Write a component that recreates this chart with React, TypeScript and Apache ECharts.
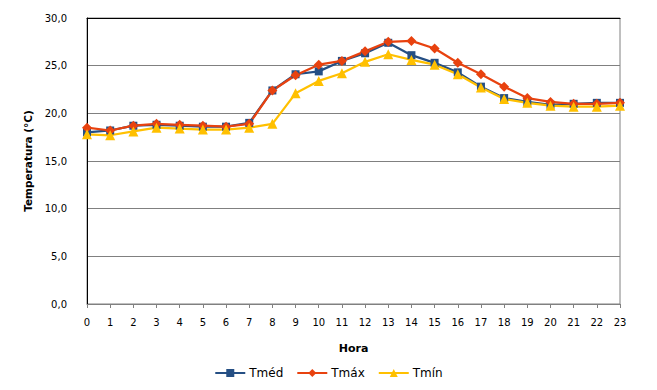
import React, { useEffect, useRef } from "react";
import * as echarts from "echarts";

const hours = ["0","1","2","3","4","5","6","7","8","9","10","11","12","13","14","15","16","17","18","19","20","21","22","23"];
const tmed = [18.0, 18.2, 18.7, 18.8, 18.7, 18.6, 18.6, 19.0, 22.4, 24.1, 24.4, 25.5, 26.3, 27.4, 26.1, 25.3, 24.3, 22.8, 21.6, 21.2, 20.9, 21.0, 21.1, 21.1];
const tmax = [18.5, 18.2, 18.7, 18.9, 18.8, 18.7, 18.6, 18.9, 22.4, 24.0, 25.1, 25.5, 26.5, 27.5, 27.6, 26.8, 25.3, 24.1, 22.8, 21.6, 21.2, 21.0, 21.0, 21.1];
const tmin = [17.8, 17.7, 18.1, 18.5, 18.4, 18.3, 18.3, 18.5, 18.9, 22.1, 23.4, 24.2, 25.4, 26.2, 25.6, 25.1, 24.1, 22.7, 21.5, 21.1, 20.8, 20.7, 20.7, 20.8];
const seriesNames = ["Tméd", "Tmáx", "Tmín"];

const FONT = "DejaVu Sans, Verdana, sans-serif";

export default function App() {
  const ref = useRef<HTMLDivElement>(null);
  useEffect(() => {
    if (!ref.current) return;
    const chart = echarts.init(ref.current, undefined, { renderer: "svg" });
    const mk = (name: string, data: number[], color: string, symbol: string, size: number) => ({
      name,
      type: "line",
      data,
      symbol,
      symbolSize: size,
      showAllSymbol: true,
      lineStyle: { color, width: 2.25 },
      itemStyle: { color },
      xAxisIndex: 0,
    });
    chart.setOption({
      animation: false,
      backgroundColor: "#ffffff",
      textStyle: { fontFamily: FONT },
      grid: { left: 87, right: 37, top: 18, bottom: 86, show: true, borderColor: "#808080", borderWidth: 1 },
      legend: {
        data: seriesNames,
        top: 362,
        left: "center",
        itemWidth: 30,
        itemHeight: 10,
        itemGap: 13,
        textStyle: { fontFamily: FONT, fontSize: 12, color: "#000", padding: [0, 0, 0, -1] },
      },
      xAxis: [
        {
          type: "category",
          data: hours,
          boundaryGap: false,
          name: "Hora",
          nameLocation: "middle",
          nameGap: 39,
          nameTextStyle: { fontFamily: FONT, fontSize: 11, fontWeight: "bold", color: "#000" },
          axisLine: { lineStyle: { color: "#808080", width: 1 } },
          axisTick: { show: true, length: 4, lineStyle: { color: "#808080" } },
          axisLabel: { color: "#000", fontSize: 10, fontFamily: FONT, margin: 13, interval: 0 },
          splitLine: { show: false },
        },
        {
          type: "category",
          data: hours,
          boundaryGap: false,
          position: "top",
          axisLine: { show: true, lineStyle: { color: "#000", width: 1 } },
          axisTick: { show: false },
          axisLabel: { show: false },
          splitLine: { show: false },
        },
      ],
      yAxis: {
        type: "value",
        min: 0,
        max: 30,
        interval: 5,
        name: "Temperatura (°C)",
        nameLocation: "middle",
        nameGap: 46,
        nameRotate: 90,
        nameTextStyle: { fontFamily: FONT, fontSize: 10.5, fontWeight: "bold", color: "#000" },
        axisLine: { show: true, lineStyle: { color: "#000", width: 1 } },
        axisTick: { show: false },
        axisLabel: {
          color: "#000",
          fontSize: 10,
          fontFamily: FONT,
          margin: 20,
          formatter: (v: number) => v.toFixed(1).replace(".", ","),
        },
        splitLine: { show: true, lineStyle: { color: "#808080", width: 1 } },
      },
      series: [
        mk(seriesNames[0], tmed, "#254F84", "rect", 8),
        mk(seriesNames[1], tmax, "#E8420F", "diamond", 10),
        mk(seriesNames[2], tmin, "#FFC000", "triangle", 10),
      ],
    });
    return () => chart.dispose();
  }, []);
  return <div ref={ref} style={{ width: 657, height: 390, position: "absolute", left: 0, top: 0 }} />;
}
